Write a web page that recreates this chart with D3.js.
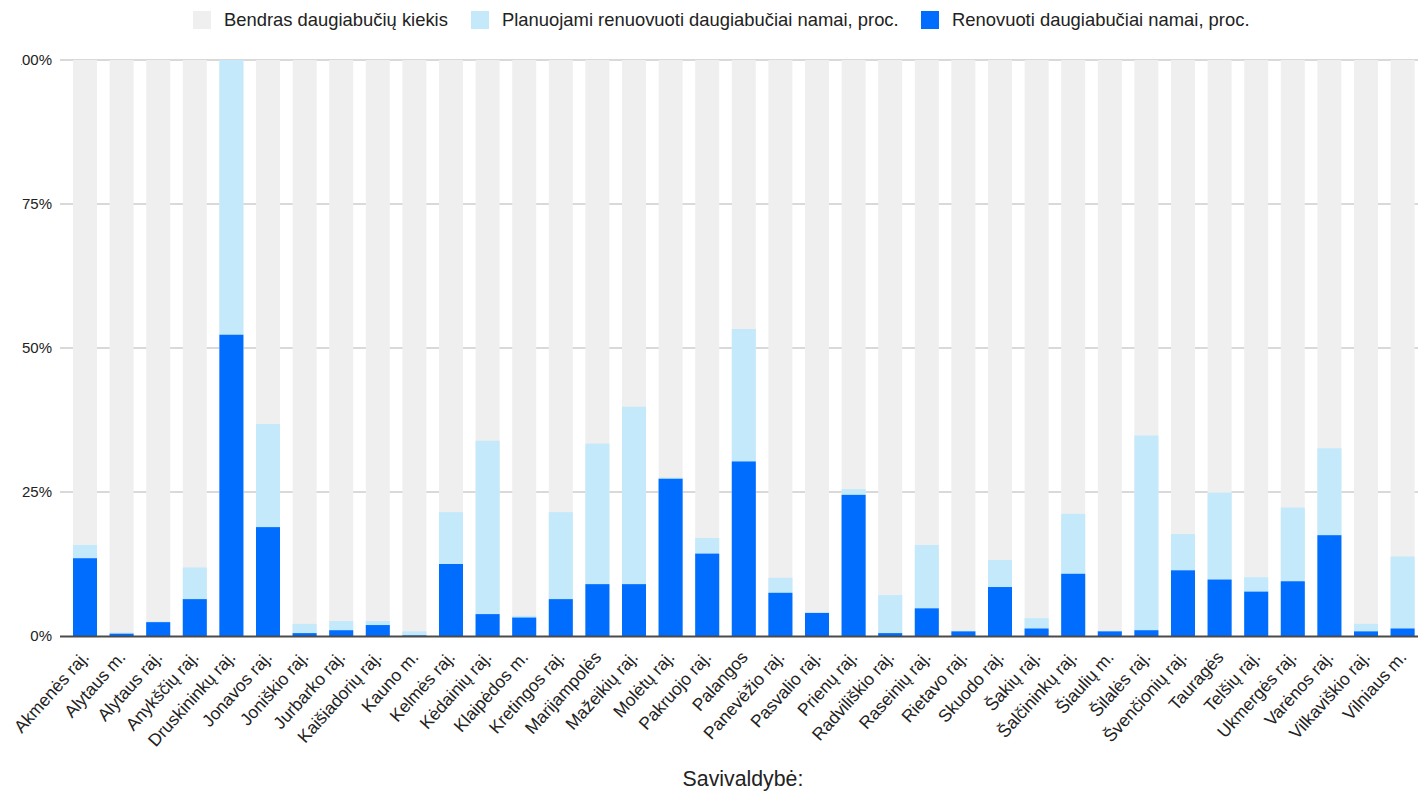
<!DOCTYPE html>
<html>
<head>
<meta charset="utf-8">
<script src="https://cdn.jsdelivr.net/npm/d3@7"></script>
<style>
  html, body { margin: 0; padding: 0; background: #fff; }
  svg { display: block; font-family: "Liberation Sans", Arial, sans-serif; }
</style>
</head>
<body>
<svg id="chart" width="1418" height="794"></svg>
<script>
// Municipalities (savivaldybės)
const municipalities = [
  "Akmenės raj.", "Alytaus m.", "Alytaus raj.", "Anykščių raj.", "Druskininkų raj.",
  "Jonavos raj.", "Joniškio raj.", "Jurbarko raj.", "Kaišiadorių raj.", "Kauno m.",
  "Kelmės raj.", "Kėdainių raj.", "Klaipėdos m.", "Kretingos raj.", "Marijampolės",
  "Mažeikių raj.", "Molėtų raj.", "Pakruojo raj.", "Palangos", "Panevėžio raj.",
  "Pasvalio raj.", "Prienų raj.", "Radviliškio raj.", "Raseinių raj.", "Rietavo raj.",
  "Skuodo raj.", "Šakių raj.", "Šalčininkų raj.", "Šiaulių m.", "Šilalės raj.",
  "Švenčionių raj.", "Tauragės", "Telšių raj.", "Ukmergės raj.", "Varėnos raj.",
  "Vilkaviškio raj.", "Vilniaus m."
];

// Total stock of apartment buildings (always the full 100 %)
const totalShare = municipalities.map(() => 100);

// Planned for renovation, percent
const plannedShare = [
  15.8, 0.6, 2.5, 11.9, 100,
  36.8, 2.1, 2.6, 2.6, 0.8,
  21.5, 33.9, 3.5, 21.5, 33.4,
  39.8, 27.5, 17.0, 53.3, 10.1,
  4.1, 25.5, 7.1, 15.8, 0.9,
  13.2, 3.1, 21.2, 0.9, 34.8,
  17.7, 24.9, 10.2, 22.3, 32.6,
  2.1, 13.8
];

// Already renovated, percent
const renovatedShare = [
  13.5, 0.4, 2.4, 6.4, 52.3,
  18.9, 0.5, 1.0, 1.9, 0.1,
  12.5, 3.8, 3.2, 6.4, 9.0,
  9.0, 27.3, 14.3, 30.3, 7.5,
  4.0, 24.5, 0.5, 4.8, 0.8,
  8.5, 1.3, 10.8, 0.8, 1.0,
  11.4, 9.8, 7.7, 9.5, 17.5,
  0.8, 1.3
];

const yTicks = [0, 25, 50, 75, 100];

const seriesNames = [
  "Bendras daugiabučių kiekis",
  "Planuojami renuovuoti daugiabučiai namai, proc.",
  "Renovuoti daugiabučiai namai, proc."
];
const seriesColors = ["#efefef", "#c3e9fb", "#006dff"];
const seriesValues = [totalShare, plannedShare, renovatedShare];

const svg = d3.select("#chart");
const W = 1418, H = 794;
const plotLeft = 60, plotRight = 1427.6, plotTop = 60, plotBottom = 636;

const x = d3.scaleBand()
  .domain(municipalities)
  .range([plotLeft, plotRight])
  .paddingInner(0.344)
  .paddingOuter(0.355);

const y = d3.scaleLinear().domain([0, 100]).range([plotBottom, plotTop]);

// Horizontal grid lines
svg.append("g")
  .selectAll("line")
  .data(yTicks.filter(d => d > 0))
  .join("line")
  .attr("x1", plotLeft).attr("x2", W)
  .attr("y1", d => y(d)).attr("y2", d => y(d))
  .attr("stroke", "#cccccc")
  .attr("stroke-width", 1.5);

// Y axis labels; the leftmost margin is clipped
svg.append("defs").append("clipPath").attr("id", "labelClip")
  .append("rect").attr("x", 21).attr("y", 0).attr("width", 60).attr("height", H);

const yAxis = d3.axisLeft(y).tickValues(yTicks).tickSize(0).tickPadding(8)
  .tickFormat(d => d + "%");
const yg = svg.append("g")
  .attr("clip-path", "url(#labelClip)")
  .append("g")
  .attr("transform", `translate(${plotLeft},0)`)
  .call(yAxis);
yg.select(".domain").remove();
yg.selectAll("text")
  .attr("font-family", "Liberation Sans, Arial, sans-serif")
  .attr("font-size", 15)
  .attr("fill", "#222");

// Bars: total, planned and renovated drawn over each other
seriesValues.forEach((vals, si) => {
  svg.append("g")
    .selectAll("rect")
    .data(municipalities.map((m, i) => ({ m, v: vals[i] })))
    .join("rect")
    .attr("x", d => x(d.m))
    .attr("width", x.bandwidth())
    .attr("y", d => y(d.v))
    .attr("height", d => y(0) - y(d.v))
    .attr("fill", seriesColors[si]);
});

// Baseline
svg.append("line")
  .attr("x1", plotLeft).attr("x2", W)
  .attr("y1", y(0) + 0.5).attr("y2", y(0) + 0.5)
  .attr("stroke", "#4a4a4a")
  .attr("stroke-width", 2);

// X axis labels, rotated
svg.append("g")
  .selectAll("text")
  .data(municipalities)
  .join("text")
  .attr("transform", d => `translate(${x(d) + x.bandwidth() / 2 + 5},${plotBottom + 22}) rotate(-48)`)
  .attr("text-anchor", "end")
  .attr("font-size", 17.5)
  .attr("fill", "#222")
  .text(d => d);

// X axis title
svg.append("text")
  .attr("x", 743).attr("y", 786)
  .attr("text-anchor", "middle")
  .attr("font-size", 21.3)
  .attr("fill", "#222")
  .text("Savivaldybė:");

// Legend
const legendX = [193, 471, 921];
const lg = svg.append("g");
seriesNames.forEach((name, i) => {
  lg.append("rect")
    .attr("x", legendX[i]).attr("y", 11)
    .attr("width", 18).attr("height", 18)
    .attr("fill", seriesColors[i]);
  lg.append("text")
    .attr("x", legendX[i] + 31).attr("y", 26)
    .attr("font-size", 18.4)
    .attr("fill", "#222")
    .text(name);
});
</script>
</body>
</html>
